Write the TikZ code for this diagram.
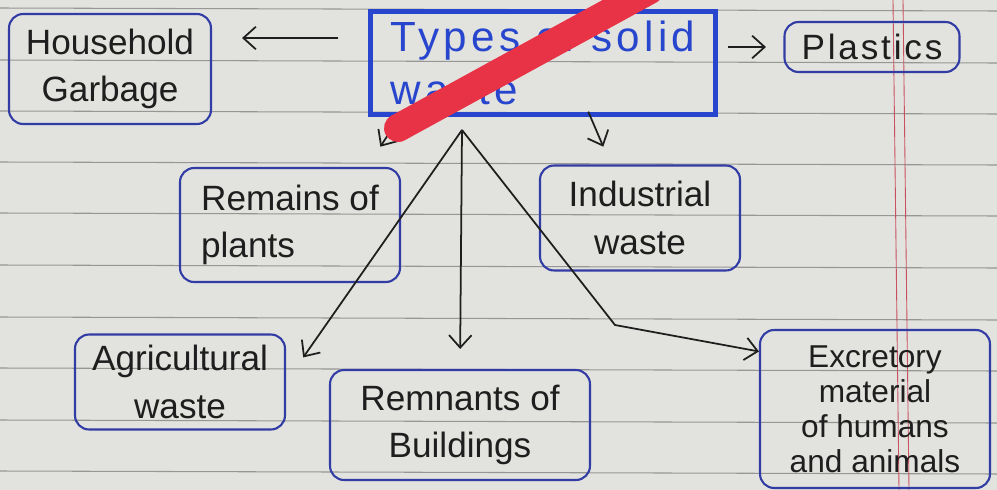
\documentclass[tikz,border=0pt]{standalone}
\usepackage{fontspec}
\setmainfont{Liberation Sans}
\usetikzlibrary{arrows.meta}
\definecolor{paper}{RGB}{226,226,222}
\definecolor{ruling}{RGB}{150,150,148}
\definecolor{margin}{RGB}{200,80,95}
\definecolor{pen}{RGB}{50,60,165}
\definecolor{penbright}{RGB}{40,70,205}
\definecolor{ink}{RGB}{30,30,30}
\definecolor{marker}{RGB}{232,50,70}
\begin{document}
\begin{tikzpicture}[x=0.02cm,y=-0.02cm,
    box/.style={draw=pen,line width=1.2pt,rounded corners=8pt,text=ink,align=center,
      font=\fontsize{20}{27}\selectfont,inner sep=2pt},
    arr/.style={-{Straight Barb[length=2.5mm,width=4.5mm]},draw=ink,line width=1pt}]
\fill[paper] (0,0) rectangle (997,490);
\useasboundingbox (0,0) rectangle (997,490);
\foreach \y in {8,60,111,162,213,265,317,368,420,471}
  \draw[ruling,line width=0.6pt] (0,\y) -- (997,\y+3);
\draw[margin,line width=0.5pt] (893,0) -- (899,490);
\draw[margin,line width=0.5pt] (903,0) -- (909,490);
\node[box,minimum width=4.04cm,minimum height=2.2cm] (house) at (110,69) {Household\\Garbage};
\node[box,draw=penbright,line width=2.5pt,rounded corners=0pt,text=penbright,align=left,
  font=\fontsize{24}{30}\selectfont\addfontfeature{LetterSpace=10},
  minimum width=6.9cm,minimum height=2.06cm] (types) at (543,63) {Types of solid\\waste};
\node[box,font=\fontsize{20}{27}\selectfont\addfontfeature{LetterSpace=8},
  minimum width=3.5cm,minimum height=1cm] (plast) at (872,47) {Plastics};
\node[box,align=left,minimum width=4.4cm,minimum height=2.28cm] (remains) at (290,225) {Remains of\\plants};
\node[box,minimum width=4cm,minimum height=2.1cm] (indus) at (640,218) {Industrial\\waste};
\node[box,minimum width=4.2cm,minimum height=1.9cm] (agri) at (180,382) {Agricultural\\waste};
\node[box,minimum width=5.2cm,minimum height=2.2cm] (remn) at (460,425) {Remnants of\\Buildings};
\node[box,font=\fontsize{18}{20}\selectfont,minimum width=4.6cm,minimum height=3.16cm] (excr) at (875,409) {Excretory\\material\\of humans\\and animals};
\coordinate (hub) at (462,130);
\coordinate (bend) at (615,325);
\draw[arr,shorten <=0.6cm,shorten >=0.6cm] ([yshift=0.5cm]types.west) -- ([yshift=0.5cm]types.west -| house.east);
\draw[arr,shorten <=0.2cm,shorten >=0.35cm] (types.east |- plast) -- (plast.west);
\draw[arr] ([xshift=0.5cm,yshift=-0.2cm]types.south west) -- ++(-13,20);
\draw[arr] ([xshift=4.4cm,yshift=0.1cm]types.south west) -- ++(15,35);
\draw[arr,shorten >=0.6cm] (hub) -- (agri.east);
\draw[arr,shorten >=0.4cm] (hub) -- (remn.north);
\draw[arr] (hub) -- (bend) -- ([yshift=-0.45cm]excr.north west);
\draw[marker,line width=0.56cm,line cap=round] (398,128) -- (650,-10);
\end{tikzpicture}
\end{document}
